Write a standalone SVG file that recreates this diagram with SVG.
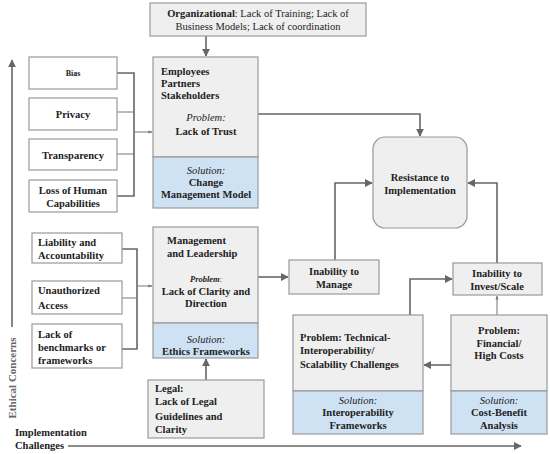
<svg xmlns="http://www.w3.org/2000/svg" width="550" height="454" viewBox="0 0 550 454">
<style>
text{font-family:"Liberation Serif","DejaVu Serif",serif;fill:#222;font-size:10.5px}
.b{font-weight:bold}
.i{font-style:italic}
.c{text-anchor:middle}
.g{fill:#efefef;stroke:#999;stroke-width:1.2}
.w{fill:#fff;stroke:#999;stroke-width:1.2}
.bl{fill:#cfe2f3;stroke:#999;stroke-width:1.2}
.ln{fill:none;stroke:#666;stroke-width:1.6}
.th{fill:none;stroke:#777;stroke-width:1}
</style>
<defs>
<marker id="ar" viewBox="0 0 10 10" refX="9" refY="5" markerWidth="5" markerHeight="5" orient="auto"><path d="M0,0L10,5L0,10z" fill="#666"/></marker>
<marker id="as" viewBox="0 0 10 10" refX="9" refY="5" markerWidth="4" markerHeight="4" orient="auto"><path d="M0,1L10,5L0,9z" fill="#777"/></marker>
</defs>

<g id="connectors">
<line class="ln" x1="12" y1="327" x2="12" y2="60" marker-end="url(#ar)"/>
<line class="ln" x1="68" y1="446" x2="521" y2="446" marker-end="url(#ar)"/>
<line class="ln" x1="206" y1="36" x2="206" y2="56" marker-end="url(#ar)"/>
<polyline class="ln" points="117,73 134,73 134,196 117,196"/>
<line class="th" x1="117" y1="112" x2="134" y2="112"/>
<line class="th" x1="117" y1="154" x2="134" y2="154"/>
<line class="th" x1="134" y1="132" x2="152" y2="132" marker-end="url(#as)"/>
<polyline class="ln" points="122,249 137,249 137,349 122,349"/>
<line class="th" x1="122" y1="298" x2="137" y2="298"/>
<line class="th" x1="137" y1="286" x2="152" y2="286" marker-end="url(#as)"/>
<polyline class="ln" points="258,114 420,114 420,136" marker-end="url(#ar)"/>
<line class="ln" x1="258" y1="277" x2="288" y2="277" marker-end="url(#ar)"/>
<polyline class="ln" points="335,260 335,183 372,183" marker-end="url(#ar)"/>
<polyline class="ln" points="497,263 497,183 468,183" marker-end="url(#ar)"/>
<polyline class="ln" points="410,315 410,279 452,279" marker-end="url(#ar)"/>
<line class="th" x1="497" y1="315" x2="497" y2="296" marker-end="url(#as)"/>
<line class="ln" x1="451" y1="365" x2="424" y2="365" marker-end="url(#ar)"/>
<line class="ln" x1="206" y1="380" x2="206" y2="359" marker-end="url(#ar)"/>
</g>

<g id="axis-labels">
<text class="b" transform="translate(16,378) rotate(-90)" text-anchor="middle" style="fill:#666;font-size:11px">Ethical Concerns</text>
<text class="b" x="15" y="436">Implementation</text>
<text class="b" x="15" y="449">Challenges</text>
</g>

<g id="organizational">
<rect class="g" x="150" y="3" width="216" height="33"/>
<text class="c" x="258" y="17"><tspan class="b">Organizational</tspan>: Lack of Training; Lack of</text>
<text class="c" x="258" y="30">Business Models; Lack of coordination</text>
</g>

<g id="bias"><rect class="w" x="29" y="57" width="88" height="32"/><text class="b c" x="73" y="76" style="font-size:8px">Bias</text></g>
<g id="privacy"><rect class="w" x="29" y="98" width="88" height="32"/><text class="b c" x="73" y="118">Privacy</text></g>
<g id="transparency"><rect class="w" x="29" y="139" width="88" height="31"/><text class="b c" x="73" y="159">Transparency</text></g>
<g id="loss"><rect class="w" x="29" y="180" width="88" height="32"/><text class="b c" x="73" y="194">Loss of Human</text><text class="b c" x="73" y="207">Capabilities</text></g>

<g id="employees">
<rect class="g" x="153" y="57" width="105" height="100"/>
<rect class="bl" x="153" y="157" width="105" height="51"/>
<text class="b" x="161" y="75">Employees</text>
<text class="b" x="161" y="87">Partners</text>
<text class="b" x="161" y="99">Stakeholders</text>
<text class="i c" x="206" y="121">Problem:</text>
<text class="b c" x="206" y="135">Lack of Trust</text>
<text class="i c" x="206" y="174">Solution:</text>
<text class="b c" x="206" y="186">Change</text>
<text class="b c" x="206" y="198">Management Model</text>
</g>

<g id="resistance">
<rect class="g" x="373" y="137" width="94" height="91" rx="12"/>
<text class="b c" x="420" y="181">Resistance to</text>
<text class="b c" x="420" y="194">Implementation</text>
</g>

<g id="liability"><rect class="w" x="32" y="233" width="90" height="30"/><text class="b" x="38" y="246">Liability and</text><text class="b" x="38" y="259">Accountability</text></g>
<g id="unauthorized"><rect class="w" x="32" y="281" width="90" height="33"/><text class="b" x="38" y="294">Unauthorized</text><text class="b" x="38" y="309">Access</text></g>
<g id="benchmarks"><rect class="w" x="32" y="324" width="90" height="44"/><text class="b" x="38" y="338">Lack of</text><text class="b" x="38" y="351">benchmarks or</text><text class="b" x="38" y="364">frameworks</text></g>

<g id="management">
<rect class="g" x="153" y="227" width="105" height="96"/>
<rect class="bl" x="153" y="323" width="105" height="35"/>
<text class="b" x="167" y="244">Management</text>
<text class="b" x="167" y="257">and Leadership</text>
<text class="c" x="206" y="282" style="font-size:8.5px"><tspan class="b i">Problem</tspan>:</text>
<text class="b c" x="206" y="295">Lack of Clarity and</text>
<text class="b c" x="206" y="307">Direction</text>
<text class="i c" x="206" y="343">Solution:</text>
<text class="b c" x="206" y="355">Ethics Frameworks</text>
</g>

<g id="legal">
<rect class="g" x="148" y="380" width="116" height="58"/>
<text class="b" x="155" y="392">Legal:</text>
<text class="b" x="155" y="405">Lack of Legal</text>
<text class="b" x="155" y="420">Guidelines and</text>
<text class="b" x="155" y="433">Clarity</text>
</g>

<g id="manage">
<rect class="g" x="289" y="260" width="90" height="34"/>
<text class="b c" x="334" y="275">Inability to</text>
<text class="b c" x="334" y="288">Manage</text>
</g>

<g id="invest">
<rect class="g" x="453" y="263" width="89" height="32"/>
<text class="b c" x="497" y="277">Inability to</text>
<text class="b c" x="497" y="290">Invest/Scale</text>
</g>

<g id="technical">
<rect class="g" x="293" y="315" width="130" height="76"/>
<rect class="bl" x="293" y="391" width="130" height="43"/>
<text class="b" x="300" y="341">Problem: Technical-</text>
<text class="b" x="300" y="354">Interoperability/</text>
<text class="b" x="300" y="368">Scalability Challenges</text>
<text class="i c" x="358" y="404">Solution:</text>
<text class="b c" x="358" y="416">Interoperability</text>
<text class="b c" x="358" y="429">Frameworks</text>
</g>

<g id="financial">
<rect class="g" x="451" y="315" width="96" height="76"/>
<rect class="bl" x="451" y="391" width="96" height="43"/>
<text class="b c" x="499" y="334">Problem:</text>
<text class="b c" x="499" y="347">Financial/</text>
<text class="b c" x="499" y="359">High Costs</text>
<text class="i c" x="499" y="404">Solution:</text>
<text class="b c" x="499" y="416">Cost-Benefit</text>
<text class="b c" x="499" y="429">Analysis</text>
</g>
</svg>
